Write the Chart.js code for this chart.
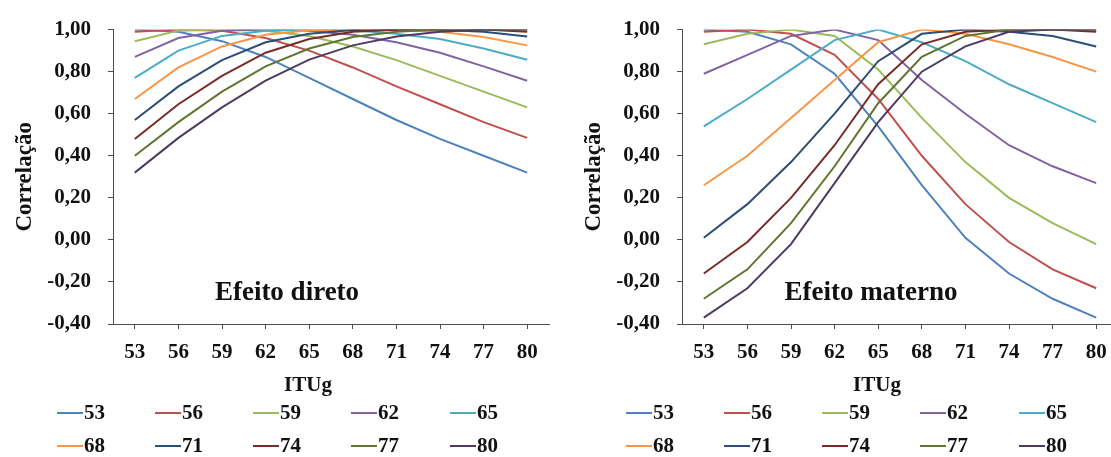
<!DOCTYPE html>
<html><head><meta charset="utf-8">
<script src="https://cdn.jsdelivr.net/npm/chart.js@4.4.0/dist/chart.umd.min.js"></script>
<style>
html,body{margin:0;padding:0;width:1111px;height:457px;overflow:hidden;background:#fff}
.wrap{position:absolute;top:0;width:569px;height:457px}
</style></head><body>
<div class="wrap" style="left:0"><canvas id="c1" width="569" height="457"></canvas></div>
<div class="wrap" style="left:569px"><canvas id="c2" width="569" height="457"></canvas></div>
<script>
// ---- data ----
const categories = ['53','56','59','62','65','68','71','74','77','80'];
const seriesNames = ['53','56','59','62','65','68','71','74','77','80'];
const yTicks = [-0.4,-0.2,0,0.2,0.4,0.6,0.8,1.0];

// Efeito direto
const direto53 = [1.00, 0.99, 0.945, 0.87, 0.77, 0.67, 0.57, 0.48, 0.40, 0.32];
const direto56 = [0.99, 1.00, 0.995, 0.96, 0.90, 0.82, 0.73, 0.645, 0.56, 0.485];
const direto59 = [0.945, 0.995, 1.00, 0.995, 0.97, 0.92, 0.855, 0.78, 0.705, 0.63];
const direto62 = [0.87, 0.96, 0.995, 1.00, 0.995, 0.975, 0.94, 0.89, 0.825, 0.757];
const direto65 = [0.77, 0.90, 0.97, 0.995, 1.00, 0.997, 0.98, 0.955, 0.91, 0.857];
const direto68 = [0.67, 0.82, 0.92, 0.975, 0.997, 1.00, 0.998, 0.99, 0.965, 0.925];
const direto71 = [0.57, 0.73, 0.855, 0.94, 0.98, 0.998, 1.00, 0.999, 0.99, 0.967];
const direto74 = [0.48, 0.645, 0.78, 0.89, 0.955, 0.99, 0.999, 1.00, 1.00, 0.99];
const direto77 = [0.40, 0.56, 0.705, 0.825, 0.91, 0.965, 0.99, 1.00, 1.00, 1.00];
const direto80 = [0.32, 0.485, 0.63, 0.757, 0.857, 0.925, 0.967, 0.99, 1.00, 1.00];

// Efeito materno
const materno53 = [1.00, 0.99, 0.93, 0.79, 0.54, 0.26, 0.01, -0.16, -0.28, -0.37];
const materno56 = [0.99, 1.00, 0.98, 0.88, 0.67, 0.40, 0.17, -0.01, -0.14, -0.23];
const materno59 = [0.93, 0.98, 1.00, 0.97, 0.81, 0.58, 0.37, 0.20, 0.08, -0.02];
const materno62 = [0.79, 0.88, 0.97, 1.00, 0.95, 0.76, 0.60, 0.45, 0.35, 0.27];
const materno65 = [0.54, 0.67, 0.81, 0.95, 1.00, 0.94, 0.85, 0.74, 0.65, 0.56];
const materno68 = [0.26, 0.40, 0.58, 0.76, 0.94, 1.00, 0.98, 0.93, 0.87, 0.80];
const materno71 = [0.01, 0.17, 0.37, 0.60, 0.85, 0.98, 1.00, 0.99, 0.97, 0.92];
const materno74 = [-0.16, -0.01, 0.20, 0.45, 0.74, 0.93, 0.99, 1.00, 1.00, 0.99];
const materno77 = [-0.28, -0.14, 0.08, 0.35, 0.65, 0.87, 0.97, 1.00, 1.00, 1.00];
const materno80 = [-0.37, -0.23, -0.02, 0.27, 0.56, 0.80, 0.92, 0.99, 1.00, 1.00];

// ---- styles ----
const palette = ['#4F81BD','#C0504D','#9BBB59','#8064A2','#4BACC6','#F79646','#2C4D75','#772C2A','#5F7530','#4D3B62'];
const FONT = '"Liberation Serif", "Times New Roman", serif';
const AXIS = '#4d4d4d';

function fmt(v){ return v.toFixed(2).replace('.', ','); }

function makeChart(id, seriesData, label) {
  const datasets = seriesData.map((d, i) => ({
    label: seriesNames[i],
    data: d,
    borderColor: palette[i],
    backgroundColor: palette[i],
    borderWidth: 2,
    pointRadius: 0,
    tension: 0,
    fill: false,
    order: seriesData.length - i
  }));
  const overlay = {
    id: 'overlay',
    afterDraw(chart) {
      const ctx = chart.ctx;
      const ca = chart.chartArea;
      ctx.save();
      ctx.fillStyle = '#111';
      // panel label
      ctx.font = 'bold 27px ' + FONT;
      ctx.textAlign = 'center';
      ctx.textBaseline = 'middle';
      ctx.fillText(label, ca.left + (label === 'Efeito direto' ? 174 : 189), 293);
      // x axis title
      ctx.font = 'bold 21px ' + FONT;
      ctx.fillText('ITUg', 308, 386);
      // legend grid
      ctx.textAlign = 'left';
      const cols = [57, 155, 253, 351, 450];
      const rows = [413, 446];
      chart.data.datasets.forEach((ds, i) => {
        const x = cols[i % 5];
        const y = rows[Math.floor(i / 5)];
        ctx.strokeStyle = ds.borderColor;
        ctx.lineWidth = 2;
        ctx.beginPath();
        ctx.moveTo(x, y);
        ctx.lineTo(x + 26, y);
        ctx.stroke();
        ctx.fillText(ds.label, x + 27, y + 1);
      });
      ctx.restore();
    }
  };
  return new Chart(document.getElementById(id), {
    type: 'line',
    data: { labels: categories, datasets },
    plugins: [overlay],
    options: {
      responsive: false,
      animation: false,
      layout: { padding: { left: 0, top: 24, right: 20, bottom: 0 } },
      plugins: { legend: { display: false }, tooltip: { enabled: false } },
      scales: {
        x: {
          type: 'category',
          offset: true,
          grid: { display: true, drawOnChartArea: false, drawTicks: true, tickLength: 5, offset: false, color: AXIS, tickColor: AXIS },
          border: { display: true, color: AXIS, width: 1 },
          ticks: { color: '#111', font: { family: FONT, size: 21, weight: 'bold' }, padding: 11, maxRotation: 0, autoSkip: false },
          afterFit(s) { s.height = 133; }
        },
        y: {
          min: -0.4, max: 1.0,
          afterBuildTicks(s) { s.ticks = yTicks.map(v => ({ value: v })); },
          grid: { display: true, drawOnChartArea: false, drawTicks: true, tickLength: 5, color: AXIS, tickColor: AXIS },
          border: { display: true, color: AXIS, width: 1 },
          ticks: { color: '#111', font: { family: FONT, size: 21, weight: 'bold' }, padding: 17, callback: v => fmt(v) },
          title: { display: true, text: 'Correlação', color: '#111', font: { family: FONT, size: 23, weight: 'bold' }, padding: { top: 11, bottom: 0 } },
          afterFit(s) { s.width = 113; }
        }
      }
    }
  });
}

makeChart('c1', [direto53, direto56, direto59, direto62, direto65, direto68, direto71, direto74, direto77, direto80], 'Efeito direto');
makeChart('c2', [materno53, materno56, materno59, materno62, materno65, materno68, materno71, materno74, materno77, materno80], 'Efeito materno');
</script>
</body></html>
